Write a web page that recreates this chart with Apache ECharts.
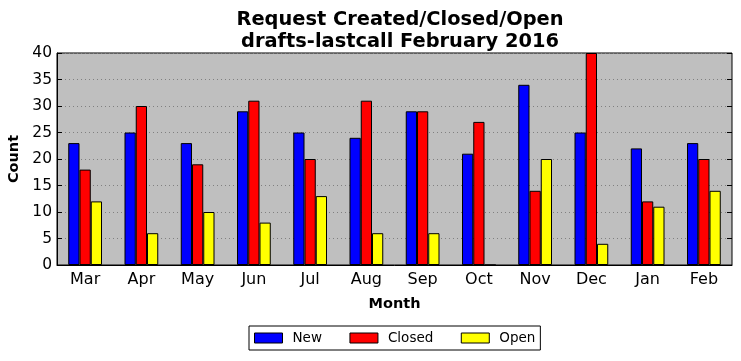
<!DOCTYPE html>
<html><head><meta charset="utf-8">
<script src="https://cdn.jsdelivr.net/npm/echarts@6/dist/echarts.min.js"></script>
<style>html,body{margin:0;padding:0;background:#fff}#c{width:741px;height:361px}</style>
</head><body><div id="c"></div>
<script>
const months = ['Mar','Apr','May','Jun','Jul','Aug','Sep','Oct','Nov','Dec','Jan','Feb'];
const newVals = [23,25,23,29,25,24,29,21,34,25,22,23];
const closedVals = [18,30,19,31,20,31,29,27,14,40,12,20];
const openVals = [12,6,10,8,13,6,6,0,20,4,11,14];
const yTicks = [0,5,10,15,20,25,30,35,40];

const font = 'DejaVu Sans';
const chart = echarts.init(document.getElementById('c'), null, {renderer:'canvas'});
function bar(name, data, color){
  return {name, type:'bar', data, barWidth:'20%', barGap:'0%', barCategoryGap:'40%',
    itemStyle:{color, borderColor:'#000', borderWidth:1}, animation:false};
}
chart.setOption({
  animation:false,
  title:{text:'Request Created/Closed/Open\ndrafts-lastcall February 2016', left:395, top:4, textAlign:'center',
    textStyle:{fontFamily:font, fontWeight:'bold', fontSize:19.4, lineHeight:22, color:'#000'}},
  grid:{left:57, right:9, top:53, bottom:96, show:true, backgroundColor:'#bfbfbf', borderColor:'#000', borderWidth:1,
    containLabel:false, outerBoundsMode:'none'},
  legend:{top:326, left:249, data:['New','Closed','Open'], itemWidth:28, itemHeight:10, itemGap:27.5,
    borderColor:'#000', borderWidth:1, padding:[5,5,5,5], borderRadius:0,
    textStyle:{fontFamily:font, fontSize:13.5, color:'#000', padding:[0,0,0,5]}, icon:'rect',
    itemStyle:{borderColor:'#000', borderWidth:1}},
  xAxis:[{type:'category', data:months, position:'bottom',
    name:'Month', nameLocation:'middle', nameGap:32,
    nameTextStyle:{fontFamily:font, fontWeight:'bold', fontSize:14.5, color:'#000'},
    axisLine:{lineStyle:{color:'#000'}}, axisTick:{inside:true, alignWithLabel:true, length:5, lineStyle:{color:'#000'}},
    axisLabel:{fontFamily:font, fontSize:16, color:'#000', margin:7}, splitLine:{show:false}},
   {type:'category', data:months, position:'top',
    axisLine:{show:false}, axisTick:{inside:true, alignWithLabel:true, length:5, lineStyle:{color:'#000'}},
    axisLabel:{show:false}, splitLine:{show:false}}],
  yAxis:[{type:'value', min:yTicks[0], max:yTicks[yTicks.length-1], interval:5, position:'left',
    name:'Count', nameLocation:'middle', nameGap:33,
    nameTextStyle:{fontFamily:font, fontWeight:'bold', fontSize:14.5, color:'#000'},
    axisLine:{show:true, lineStyle:{color:'#000'}}, axisTick:{show:true, inside:true, length:5, lineStyle:{color:'#000'}},
    axisLabel:{fontFamily:font, fontSize:15.5, color:'#000', margin:5},
    splitLine:{show:true, lineStyle:{color:'#808080', type:[1,3], width:1}}},
   {type:'value', min:yTicks[0], max:yTicks[yTicks.length-1], interval:5, position:'right',
    axisLine:{show:false}, axisTick:{show:true, inside:true, length:5, lineStyle:{color:'#000'}},
    axisLabel:{show:false}, splitLine:{show:false}}],
  series:[bar('New', newVals, '#0000ff'), bar('Closed', closedVals, '#ff0000'), bar('Open', openVals, '#ffff00')]
});
</script></body></html>
